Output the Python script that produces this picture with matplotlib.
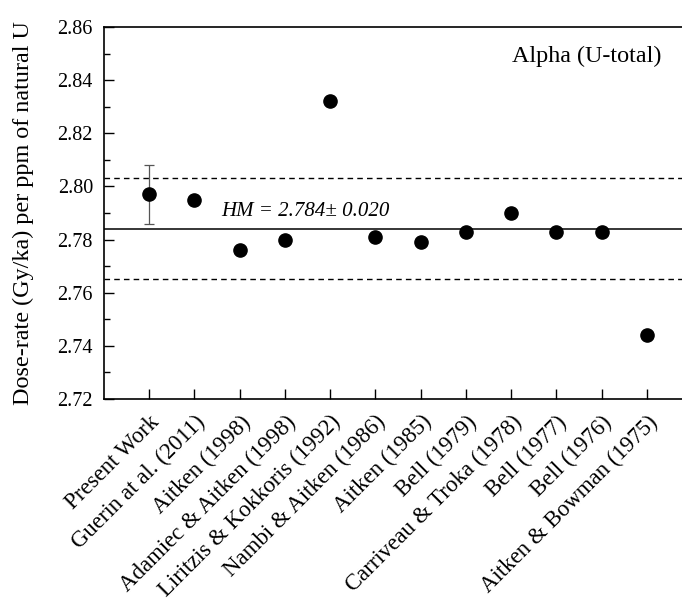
import matplotlib
matplotlib.use("Agg")
import matplotlib.pyplot as plt
from matplotlib.ticker import MultipleLocator

plt.rcParams['font.family'] = ['Liberation Serif', 'DejaVu Serif']

labels = ["Present Work", "Guerin at al. (2011)", "Aitken (1998)", "Adamiec & Aitken (1998)",
          "Liritzis & Kokkoris (1992)", "Nambi & Aitken (1986)", "Aitken (1985)", "Bell (1979)",
          "Carriveau & Troka (1978)", "Bell (1977)", "Bell (1976)", "Aitken & Bowman (1975)"]
values = [2.797, 2.795, 2.776, 2.780, 2.832, 2.781, 2.779, 2.783, 2.790, 2.783, 2.783, 2.744]
errors = [0.011] + [0.0] * 11
hm = 2.784
hm_low = 2.765
hm_high = 2.803
y_ticks = [2.72, 2.74, 2.76, 2.78, 2.80, 2.82, 2.84, 2.86]

fig = plt.figure(figsize=(6.82, 6.0), dpi=100)
ax = fig.add_axes([104/682, 1-399/600, (692-104)/682, (399-27)/600])

x = list(range(1, len(labels) + 1))
ax.errorbar(x[:1], values[:1], yerr=errors[:1], fmt='none', ecolor='#555555',
            elinewidth=0.9, capsize=3.5, capthick=0.9, zorder=2)
ax.plot(x, values, 'o', color='black', markersize=9.5, zorder=3)

ax.axhline(hm, color='black', lw=1.1, zorder=1)
ax.axhline(hm_low, color='black', lw=1.0, ls=(0, (4, 3)), zorder=1)
ax.axhline(hm_high, color='black', lw=1.0, ls=(0, (4, 3)), zorder=1)

ax.text(2.6, 2.7905, "HM = 2.784\u00b1 0.020", fontsize=15, style='italic',
        ha='left', va='center')
ax.text(12.32, 2.849, "Alpha (U-total)", fontsize=17.4, ha='right', va='center')

ax.set_xlim(0, 13)
ax.set_ylim(2.72, 2.86)
ax.set_yticks(y_ticks)
ax.set_yticklabels([f"{v:.2f}" for v in y_ticks])
ax.yaxis.set_minor_locator(MultipleLocator(0.01))
ax.set_xticks(x)
ax.set_xticklabels(labels, rotation=45, ha='right', va='top', rotation_mode='anchor', fontsize=16.5)
ax.tick_params(axis='both', which='major', direction='in', length=7, width=1.0, labelsize=14.5)
ax.tick_params(axis='y', pad=8)
ax.tick_params(axis='x', labelsize=16.5, pad=9)
ax.tick_params(axis='y', which='minor', direction='in', length=4, width=1.0)
ax.set_ylabel("Dose-rate (Gy/ka) per ppm of natural U", fontsize=17.4, labelpad=17)
for s in ax.spines.values():
    s.set_linewidth(1.2)

fig.savefig("out.png", dpi=100)
